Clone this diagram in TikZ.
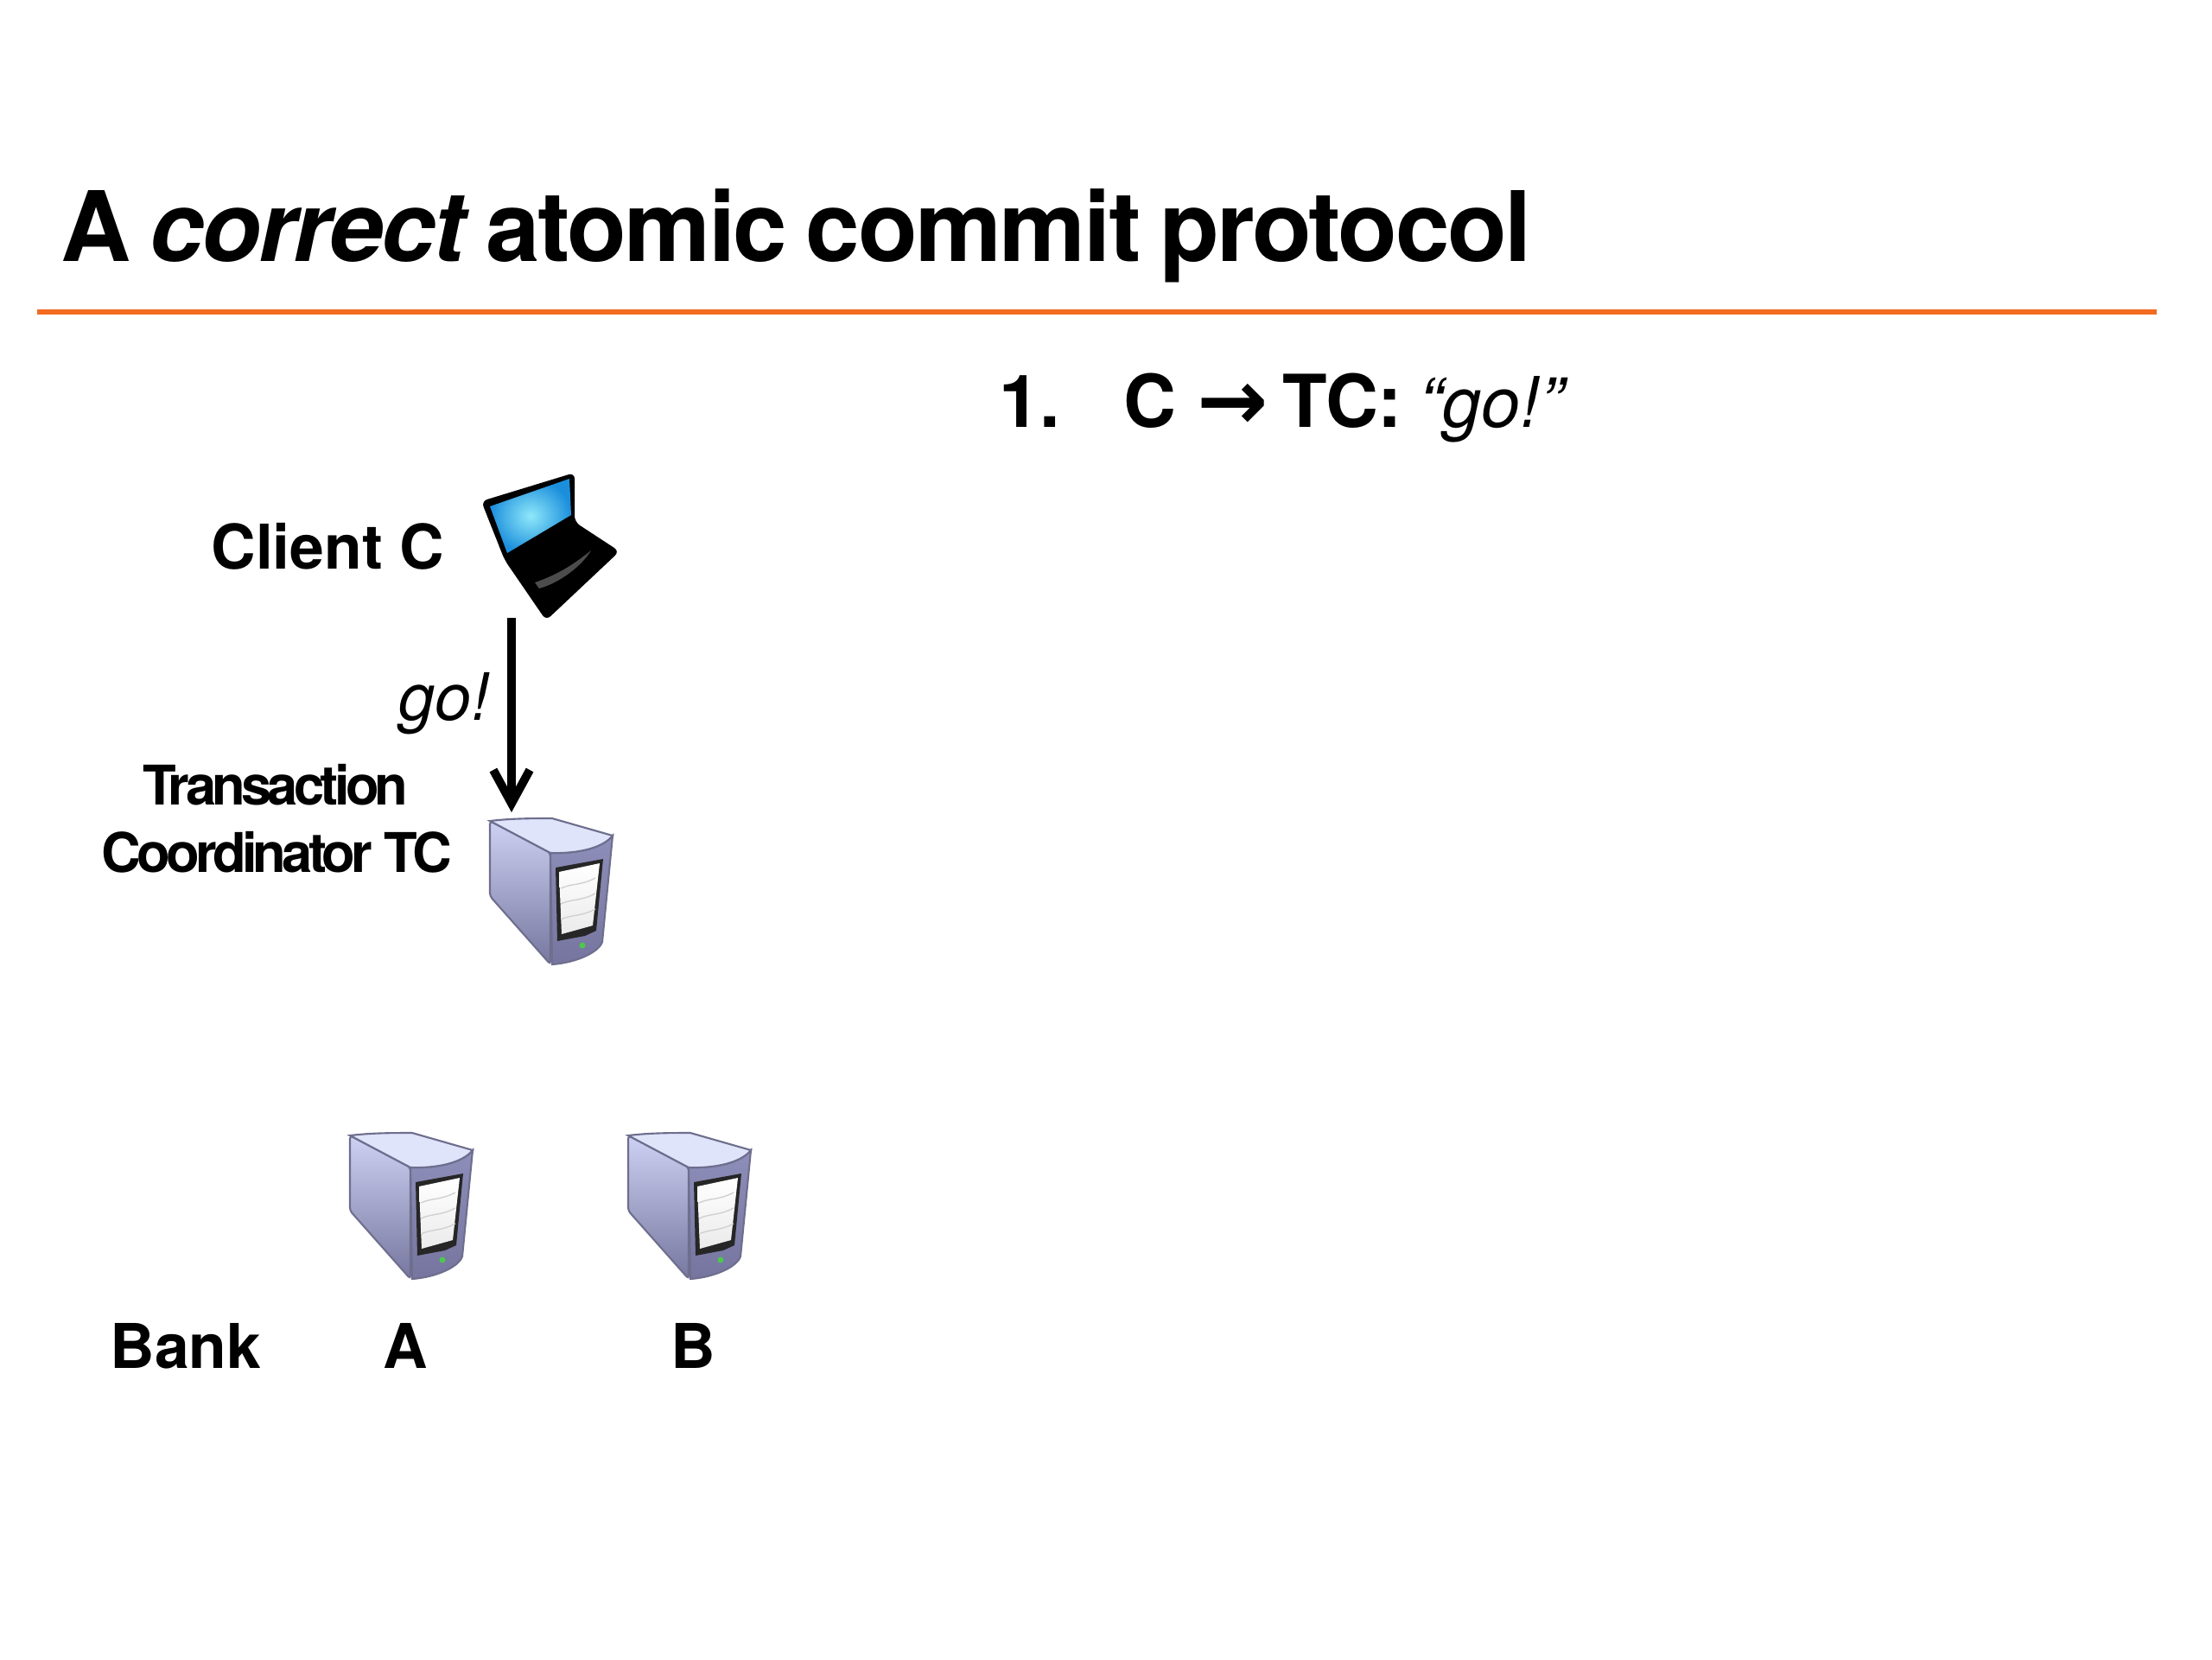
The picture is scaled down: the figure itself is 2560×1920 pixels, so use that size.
\documentclass[tikz,border=0pt]{standalone}
\usepackage{fontspec}
\setmainfont{TeX Gyre Heros}
\newfontfamily\arrowfont{DejaVu Sans}
\usetikzlibrary{arrows.meta, positioning, calc}
\definecolor{rule}{HTML}{F26B21}
\definecolor{edge}{HTML}{6E6E8E}
\definecolor{sidetop}{HTML}{CDD1F2}
\definecolor{sidelow}{HTML}{77779F}
\definecolor{lid}{HTML}{E0E4FA}
\definecolor{fronttop}{HTML}{8E8EBA}
\definecolor{frontlow}{HTML}{75759F}
\definecolor{glass}{HTML}{1C8FDC}
\definecolor{glow}{HTML}{8FE8FA}
\newcommand{\titlefont}{\fontsize{32}{36}\selectfont\bfseries\addfontfeature{LetterSpace=-2.2}\spaceskip=0.19em\relax}

\begin{document}
\begin{tikzpicture}[x=0.01cm, y=-0.01cm,
    titletext/.style={anchor=base west, inner sep=0pt, font=\titlefont},
    steptext/.style={anchor=base west, inner sep=0pt, font=\fontsize{24}{28}\selectfont\bfseries},
    lab/.style={anchor=base, inner sep=0pt, font=\fontsize{20.3}{25}\selectfont\bfseries},
    tightlab/.style={lab, font=\fontsize{18}{22}\selectfont\bfseries\addfontfeature{LetterSpace=-7.5}},
    msg/.style={line width=2.8pt, -{Straight Barb[length=11pt, width=12pt, line width=2.8pt]}},
    server/.pic={
        % Body
        \shade[top color=sidetop, bottom color=sidelow, draw=edge, line width=0.6pt, rounded corners=1pt]
            (0,0) -- (70,37) -- (70,166) -- (0,87) -- cycle;
        \shade[top color=fronttop, bottom color=frontlow, draw=edge, line width=0.6pt]
            (70,37) .. controls (100,38) and (130,32) .. (142,17) -- (130,140)
            .. controls (126,152) and (100,164) .. (72,166) -- cycle;
        \fill[lid, draw=edge, line width=0.6pt]
            (0,0) .. controls (25,-3) and (50,-3) .. (72,-3) -- (142,17)
            .. controls (130,32) and (100,38) .. (70,37) -- cycle;
        % Display
        \fill[black!85] (76,54) -- (131,44) -- (123,127) -- (110,133) -- (78,139) -- cycle;
        \shade[top color=white, bottom color=black!8] (80,59) -- (127,49) -- (119,121) -- (83,131) -- cycle;
        \foreach \h in {78,96,114} {
            \draw[black!18, line width=0.4pt] (82,\h) .. controls (95,\h-6) and (105,\h-3) .. (122,\h-12);
        }
        \fill[green!70!black!70] (107,144) circle (3.5);
        \coordinate (-top) at (25,-10);
    },
    laptop/.pic={
        \fill[black, rounded corners=2pt] (-2,31) -- (106,-2) -- (106,55) -- (158,89) -- (73,169) -- (25,99) -- cycle;
        \shade[inner color=glow, outer color=glass, shading=radial]
            (8,37) -- (100,5) -- (102,47) -- (28,91) -- cycle;
        \fill[black!70] (60,125) .. controls (90,115) and (110,100) .. (125,88)
            .. controls (115,105) and (90,125) .. (65,132) -- cycle;
        \coordinate (-base) at (33,166);
    },
]
    \useasboundingbox (0,0) rectangle (2560,1920);
    % Title
    \node[titletext] (title) at (70,302) {A \textit{correct} atomic commit protocol};
    \coordinate (ruleleft) at (43,361);
    \coordinate (ruleright) at (2496,361);
    \draw[rule, line width=1.8pt] (ruleleft) -- (ruleright);
    % Steps
    \node[steptext] (stepnum) at (1156,494) {1.};
    \node[steptext] (stepone) at (1300,494) {C {\fontsize{28}{28}\selectfont\arrowfont\raisebox{-1pt}{→}}\hspace{-2pt} TC:\hspace{-1pt} \textit{\mdseries\fontsize{23}{28}\selectfont “go!”}};
    % Client
    \pic (client) at (559,549) {laptop};
    \node[lab, anchor=base east] (clientlab) at (515,658) {Client C};
    % Coordinator
    \pic (tc) at (567,950) {server};
    \node[tightlab] (tclabtop) at (319,931) {Transaction};
    \node[tightlab] (tclabbot) at (320,1009) {Coordinator TC};
    \draw[msg] (client-base) -- (tc-top);
    \node[lab, anchor=base east, font=\fontsize{21.5}{26}\selectfont\itshape] (golab) at (567,833) {go!};
    % Banks
    \foreach \name/\x/\tx in {A/405/469, B/727/802} {
        \pic (bank\name) at (\x,1314) {server};
        \node[lab] (lab\name) at (\tx,1583) {\name};
    }
    \node[lab] (banklab) at (215,1583) {Bank};
\end{tikzpicture}
\end{document}
